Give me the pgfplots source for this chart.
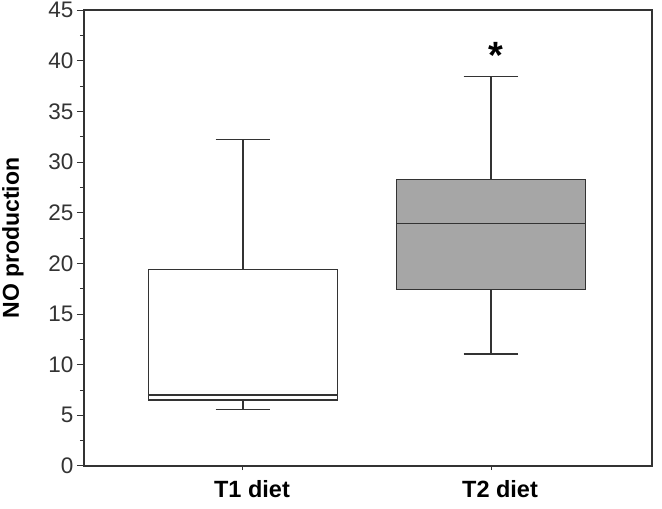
\documentclass[border=0pt]{standalone}
\usepackage{fontspec}
\setmainfont{Liberation Sans}
\usepackage{pgfplots}
\pgfplotsset{compat=1.18}
\usepgfplotslibrary{statistics}

\definecolor{boxgray}{HTML}{A6A6A6}
\definecolor{linegray}{HTML}{333333}

\begin{document}
\begin{tikzpicture}
\useasboundingbox (-84pt,-43pt) rectangle (578pt,466pt);
\begin{axis}[
    scale only axis,
    width=568pt, height=456pt,
    xmin=0.359, xmax=2.649,
    ymin=0, ymax=45,
    ytick={0,5,...,45},
    minor ytick={2.5,7.5,...,42.5},
    xtick={1,2},
    xticklabels={T1 diet, T2 diet},
    tick pos=left,
    tick align=outside,
    major tick length=7pt,
    minor tick length=4pt,
    xtick style={/pgfplots/major tick length=4pt},
    axis line style={linegray, line width=1.4pt},
    every tick/.style={linegray, line width=1pt},
    /pgf/number format/assume math mode=true,
    yticklabel style={font=\fontsize{22.5}{24}\selectfont, text=linegray},
    xticklabel style={font=\fontsize{23.5}{26}\selectfont\bfseries, xshift=9pt, yshift=-4pt},
    ylabel={NO production},
    ylabel style={font=\fontsize{23}{26}\selectfont\bfseries, at={(axis description cs:-0.125,0.5)}, anchor=center},
    boxplot/draw direction=y,
    boxplot/every box/.style={draw=linegray, line width=1.3pt},
    boxplot/every median/.style={draw=linegray, line width=1.3pt},
    boxplot/every whisker/.style={draw=linegray, line width=1.2pt},
]
\addplot+[mark=none, solid, draw=linegray, fill=white, line width=1.2pt,
    boxplot prepared={draw position=1,
    lower whisker=5.6, lower quartile=6.5, median=7.0,
    upper quartile=19.4, upper whisker=32.2,
    box extend=0.76, whisker extend=0.22}] coordinates {};
\addplot+[mark=none, solid, draw=linegray, fill=boxgray, line width=1.2pt,
    boxplot prepared={draw position=2,
    lower whisker=11.05, lower quartile=17.4, median=23.9,
    upper quartile=28.3, upper whisker=38.4,
    box extend=0.76, whisker extend=0.22}] coordinates {};
\node[font=\fontsize{38}{38}\selectfont\bfseries, inner sep=0pt] at (axis cs:2.02,40.5) {*};
\end{axis}
\end{tikzpicture}
\end{document}
